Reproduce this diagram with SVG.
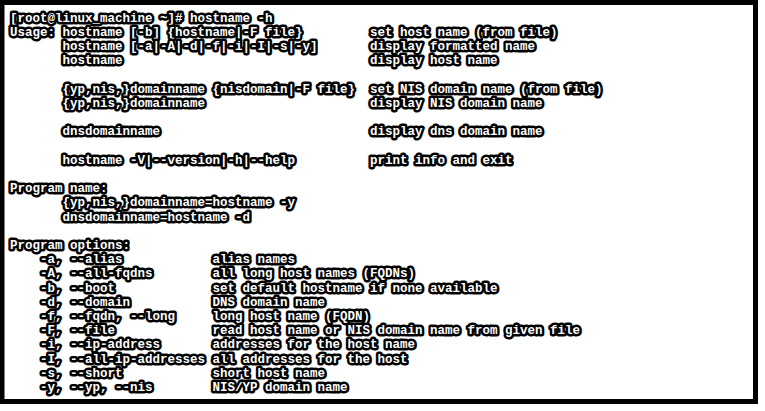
<svg xmlns="http://www.w3.org/2000/svg" width="765" height="411" viewBox="0 0 765 411">
<style>
.t{font-family:"Liberation Mono","DejaVu Sans Mono",monospace;font-size:12.5px;font-weight:bold;fill:#fff;stroke:#000;stroke-width:5;stroke-linejoin:round;paint-order:stroke;white-space:pre}
</style>
<rect x="0" y="0" width="765" height="411" fill="#fff"/>
<rect x="2" y="2.5" width="753.5" height="399" fill="none" stroke="#000" stroke-width="5"/>
<g id="terminal" class="t" xml:space="preserve">
<text x="10" y="21.5">[root@linux_machine ~]# hostname -h</text>
<text x="10" y="36">Usage: hostname [-b] {hostname|-F file}</text>
<text x="370" y="36">set host name (from file)</text>
<text x="62.5" y="50.2">hostname [-a|-A|-d|-f|-i|-I|-s|-y]</text>
<text x="370" y="50.2">display formatted name</text>
<text x="62.5" y="64.4">hostname</text>
<text x="370" y="64.4">display host name</text>
<text x="62.5" y="92.8">{yp,nis,}domainname {nisdomain|-F file}</text>
<text x="370" y="92.8">set NIS domain name (from file)</text>
<text x="62.5" y="107">{yp,nis,}domainname</text>
<text x="370" y="107">display NIS domain name</text>
<text x="62.5" y="135.4">dnsdomainname</text>
<text x="370" y="135.4">display dns domain name</text>
<text x="62.5" y="163.8">hostname -V|--version|-h|--help</text>
<text x="370" y="163.8">print info and exit</text>
<text x="10" y="192.2">Program name:</text>
<text x="62.5" y="206.4">{yp,nis,}domainname=hostname -y</text>
<text x="62.5" y="220.6">dnsdomainname=hostname -d</text>
<text x="10" y="249">Program options:</text>
<text x="40" y="263.2">-a, --alias</text>
<text x="212.5" y="263.2">alias names</text>
<text x="40" y="277.4">-A, --all-fqdns</text>
<text x="212.5" y="277.4">all long host names (FQDNs)</text>
<text x="40" y="291.6">-b, --boot</text>
<text x="212.5" y="291.6">set default hostname if none available</text>
<text x="40" y="305.8">-d, --domain</text>
<text x="212.5" y="305.8">DNS domain name</text>
<text x="40" y="320">-f, --fqdn, --long</text>
<text x="212.5" y="320">long host name (FQDN)</text>
<text x="40" y="334.2">-F, --file</text>
<text x="212.5" y="334.2">read host name or NIS domain name from given file</text>
<text x="40" y="348.4">-i, --ip-address</text>
<text x="212.5" y="348.4">addresses for the host name</text>
<text x="40" y="362.6">-I, --all-ip-addresses</text>
<text x="212.5" y="362.6">all addresses for the host</text>
<text x="40" y="376.8">-s, --short</text>
<text x="212.5" y="376.8">short host name</text>
<text x="40" y="391">-y, --yp, --nis</text>
<text x="212.5" y="391">NIS/YP domain name</text>
</g>
</svg>
